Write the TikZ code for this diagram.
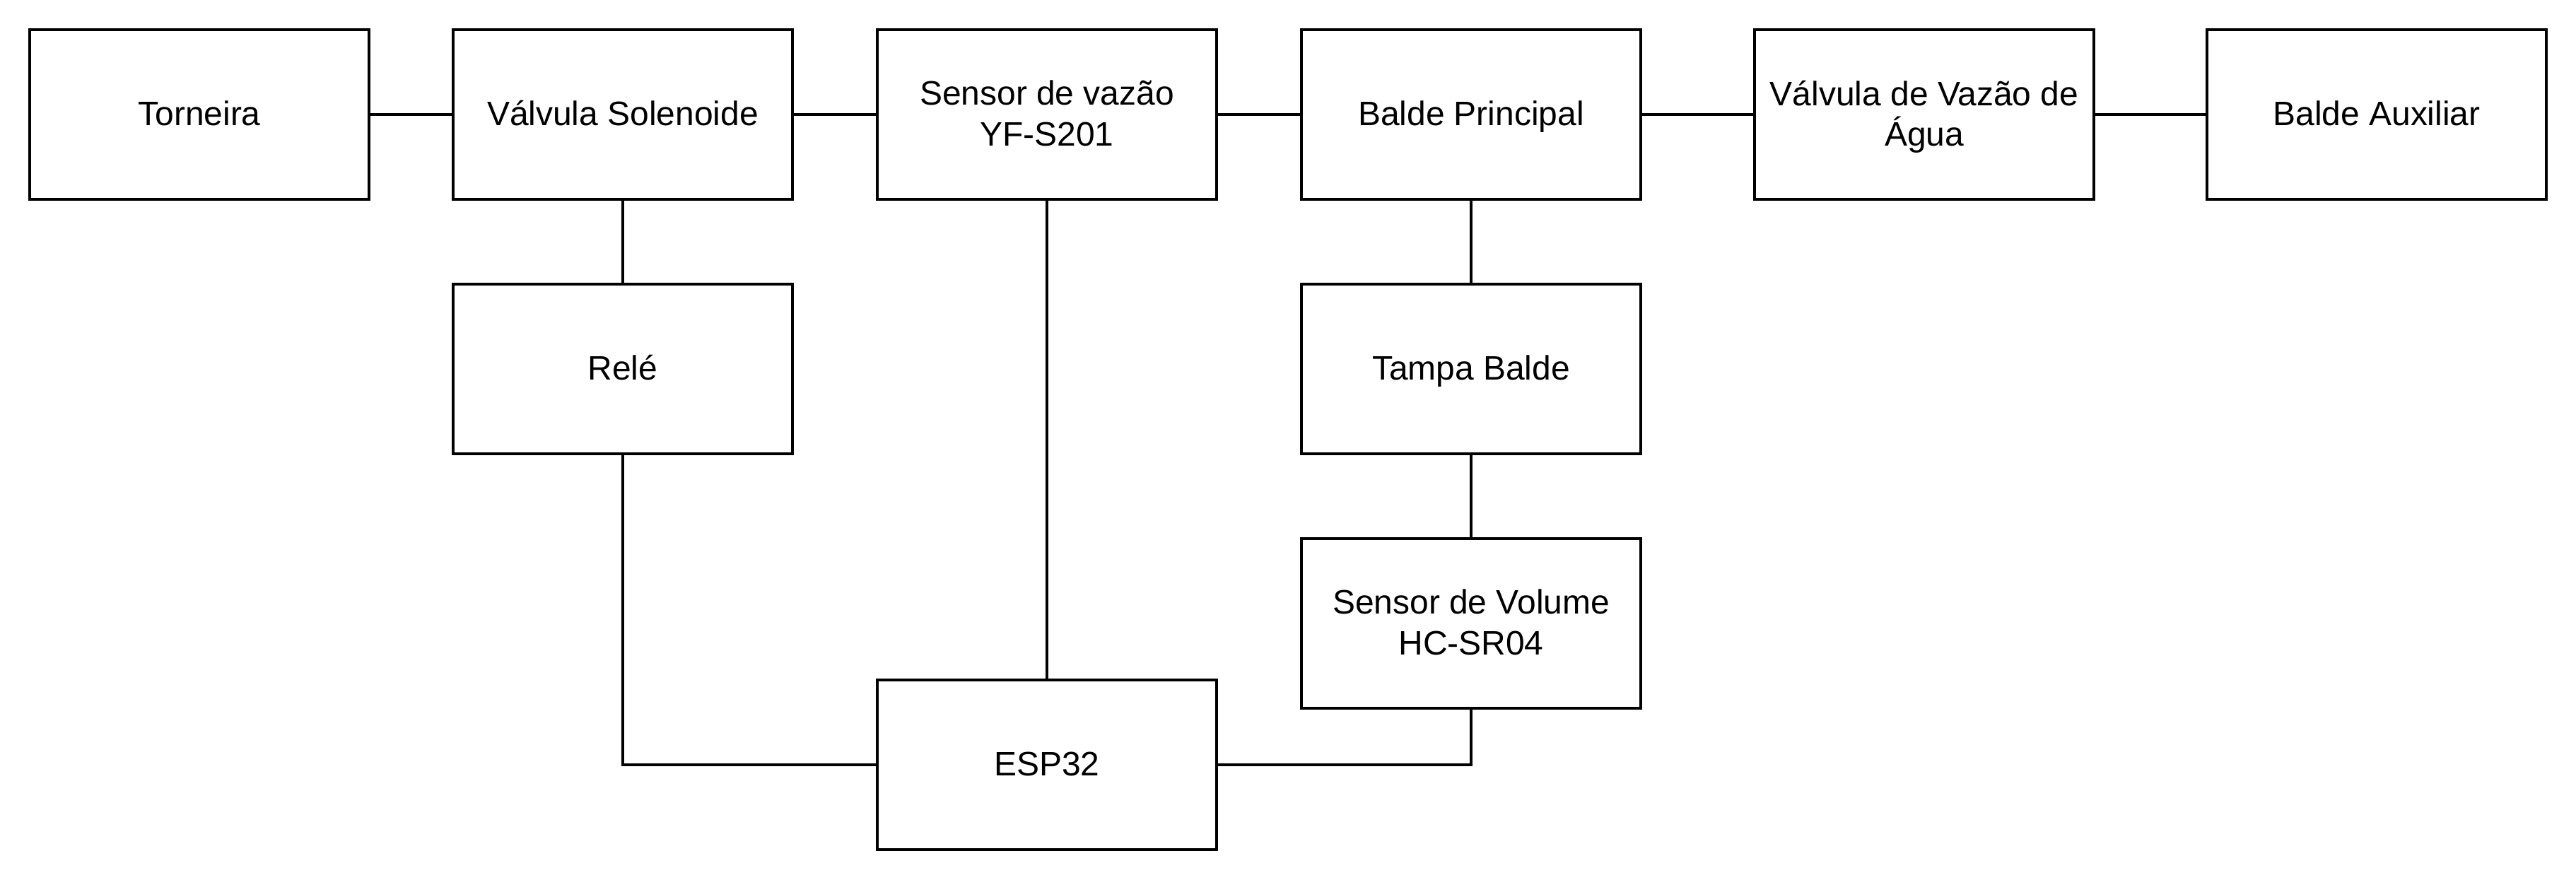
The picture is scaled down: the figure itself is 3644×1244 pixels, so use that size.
\documentclass[tikz,border=0pt]{standalone}
\usepackage{fontspec}
\setmainfont{Liberation Sans}
\begin{document}
\begin{tikzpicture}[x=0.02cm,y=-0.02cm,
  blk/.style={draw=black, line width=0.068cm, fill=white, minimum width=9.6cm, minimum height=4.8cm, inner sep=0pt, align=center, text depth=0.2em, font=\fontsize{27.3}{32.8}\selectfont},
  conn/.style={draw=black, line width=0.062cm}]
\useasboundingbox (0,0) rectangle (3644,1244);
\node[blk] (torneira) at (282,162) {Torneira};
\node[blk] (solenoide) at (881,162) {Válvula Solenoide};
\node[blk] (vazao) at (1481,162) {Sensor de vazão\\YF-S201};
\node[blk] (balde) at (2081,162) {Balde Principal};
\node[blk] (valvvazao) at (2722,162) {Válvula de Vazão de\\Água};
\node[blk] (auxiliar) at (3362,162) {Balde Auxiliar};
\node[blk] (rele) at (881,522) {Relé};
\node[blk] (tampa) at (2081,522) {Tampa Balde};
\node[blk] (volume) at (2081,882) {Sensor de Volume\\HC-SR04};
\node[blk] (esp) at (1481,1082) {ESP32};
\draw[conn] (torneira) -- (solenoide);
\draw[conn] (solenoide) -- (vazao);
\draw[conn] (vazao) -- (balde);
\draw[conn] (balde) -- (valvvazao);
\draw[conn] (valvvazao) -- (auxiliar);
\draw[conn] (solenoide) -- (rele);
\draw[conn] (rele.south) |- (esp.west);
\draw[conn] (vazao) -- (esp);
\draw[conn] (balde) -- (tampa);
\draw[conn] (tampa) -- (volume);
\draw[conn] (esp.east) -| (volume.south);
\end{tikzpicture}
\end{document}
